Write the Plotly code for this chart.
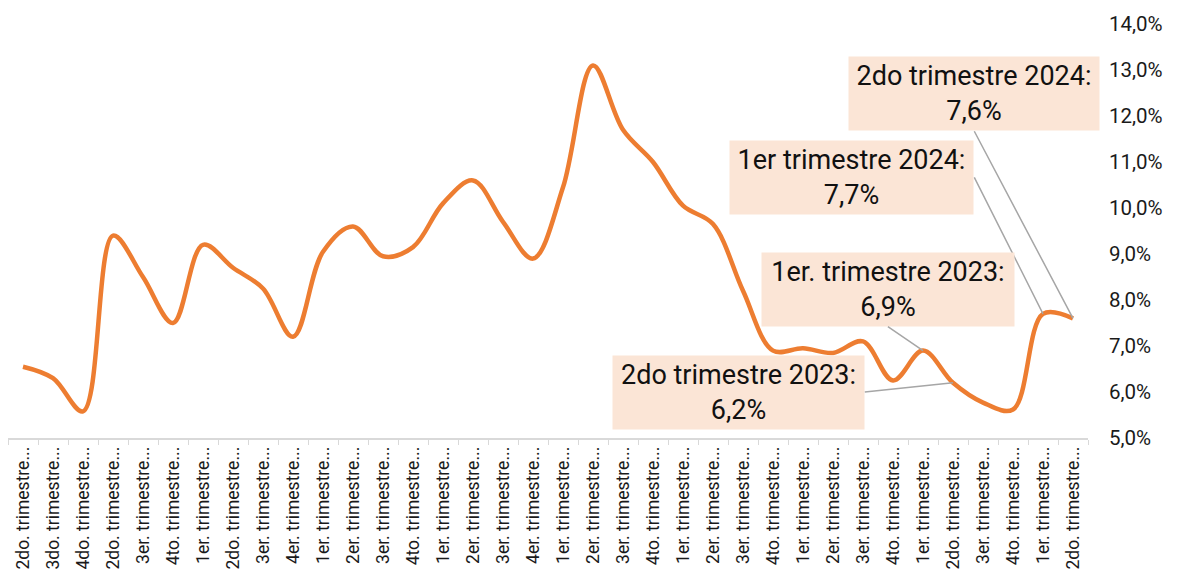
import plotly.graph_objects as go

# ---- data ----
quarter_prefix = ["2do.", "3do.", "4do.", "2do.", "3er.", "4to.", "1er.", "2do.", "3er.", "4er.",
                  "1er.", "2er.", "3er.", "4to.", "1er.", "2er.", "3er.", "4er.", "1er.", "2er.",
                  "3er.", "4to.", "1er.", "2er.", "3er.", "4to.", "1er.", "2er.", "3er.", "4to.",
                  "1er.", "2do.", "3er.", "4to.", "1er.", "2do."]
tick_labels = [p + " trimestre..." for p in quarter_prefix]
values = [6.55, 6.3, 5.58, 9.4, 8.5, 7.5, 9.2, 8.7, 8.25, 7.2,
          9.05, 9.6, 8.95, 9.15, 10.1, 10.6, 9.7, 8.9, 10.45, 13.1,
          11.7, 11.0, 10.05, 9.65, 8.2, 6.9, 6.95, 6.85, 7.1, 6.25,
          6.9, 6.2, 5.77, 5.62, 7.7, 7.6]
annot_idx = [35, 34, 30, 31]
annot_names = ["2do trimestre 2024:", "1er trimestre 2024:", "1er. trimestre 2023:", "2do trimestre 2023:"]

x = list(range(len(values)))

fig = go.Figure()
fig.add_trace(go.Scatter(
    x=x, y=values, mode="lines",
    line=dict(color="#ED7D31", width=4.5, shape="spline", smoothing=1.0),
    hoverinfo="skip", showlegend=False,
))

def fmt(v):
    return f"{v:.1f}".replace(".", ",") + "%"

# box placement (tail point in data coords + anchor side)
placements = [
    dict(ax=31.71, ay=11.668, xanchor="center", yanchor="bottom", w=247),
    dict(ax=31.71, ay=10.666, xanchor="right", yanchor="middle", w=240),
    dict(ax=28.83, ay=7.419, xanchor="center", yanchor="bottom", w=249),
    dict(ax=28.06, ay=6.0, xanchor="right", yanchor="middle", w=248),
]

annotations = []
for i, name, p in zip(annot_idx, annot_names, placements):
    annotations.append(dict(
        x=x[i], y=values[i], xref="x", yref="y",
        ax=p["ax"], ay=p["ay"], axref="x", ayref="y",
        xanchor=p["xanchor"], yanchor=p["yanchor"],
        text=f"{name}<br>{fmt(values[i])}",
        showarrow=True, arrowhead=0, arrowwidth=1.5, arrowcolor="#A6A6A6",
        bgcolor="#FBE5D6", borderpad=1.5, width=p["w"], height=70,
        align="center",
        font=dict(family="Roboto", size=27, color="#111111"),
    ))

fig.update_layout(
    width=1171, height=562,
    margin=dict(l=0, r=91, t=16, b=132, autoexpand=False),
    paper_bgcolor="white", plot_bgcolor="white",
    separators=",.",
    font=dict(family="Roboto", color="#1a1a1a"),
    annotations=annotations,
    xaxis=dict(
        range=[-0.5, len(values) - 0.5],
        tickmode="array", tickvals=x, ticktext=tick_labels,
        tickangle=-90, ticks="", showgrid=False, zeroline=False,
        showline=True, linecolor="#D9D9D9", linewidth=1.5,
        tickfont=dict(family="Roboto", size=17.5, color="#1a1a1a"),
        minor=dict(tickvals=[v - 0.5 for v in x] + [x[-1] + 0.5], ticks="outside",
                   ticklen=5, tickcolor="#D9D9D9", tickwidth=1, showgrid=False),
        automargin=False,
    ),
    yaxis=dict(
        side="right", range=[5, 14], dtick=1, tick0=5,
        tickformat=".1f", ticksuffix="%",
        showgrid=False, zeroline=False, showline=False, ticks="",
        ticklabelstandoff=20,
        tickfont=dict(family="Roboto", size=20.5, color="#1a1a1a"),
        automargin=False,
    ),
)

fig.write_html("out.html")
